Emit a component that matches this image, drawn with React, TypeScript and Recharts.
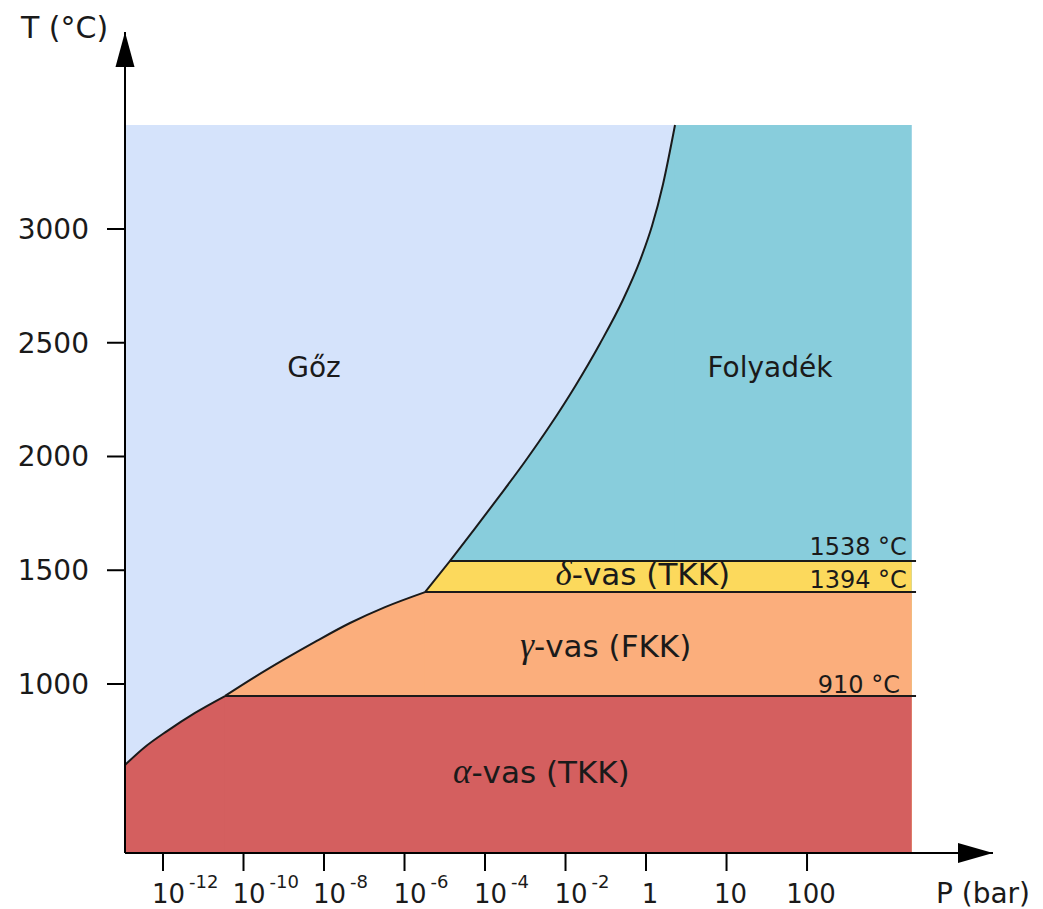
import { ComposedChart, Area, Line, XAxis, YAxis, ReferenceDot, Label } from "recharts";

// Pressure axis: one slot per printed tick (the picture spaces them evenly)
const X_TICKS = [0, 1, 2, 3, 4, 5, 6, 7, 8];
const X_TICK_LABELS = [
  ["10", "-12"],
  ["10", "-10"],
  ["10", "-8"],
  ["10", "-6"],
  ["10", "-4"],
  ["10", "-2"],
  ["1", ""],
  ["10", ""],
  ["100", ""],
];
const Y_TICKS = [1000, 1500, 2000, 2500, 3000];

// extents of the drawing (x in tick slots, t in °C)
const X_MIN = -0.472;
const X_MAX = 10.31;
const X_FILL_END = 9.3;
const X_LINE_END = 9.354;
const T_MIN = 257;
const T_MAX = 3866;
const T_TOP = 3457;
const SEAM = 0.01;

// phase boundaries as drawn
const T_ALPHA_GAMMA = 947;
const T_GAMMA_DELTA = 1404;
const T_DELTA_LIQUID = 1541;

const alphaCurve = [
  { x: -0.472, t: 644 },
  { x: -0.224, t: 723 },
  { x: 0.05, t: 793 },
  { x: 0.398, t: 873 },
  { x: 0.77, t: 947 },
];

const gammaCurve = [
  { x: 0.77, t: 947 },
  { x: 1.143, t: 1031 },
  { x: 1.516, t: 1110 },
  { x: 1.888, t: 1185 },
  { x: 2.323, t: 1268 },
  { x: 2.758, t: 1338 },
  { x: 3.255, t: 1404 },
];

const deltaEdge = [
  { x: 3.255, t: 1404 },
  { x: 3.565, t: 1541 },
];

const boilingCurve = [
  { x: 3.565, t: 1541 },
  { x: 3.876, t: 1684 },
  { x: 4.186, t: 1829 },
  { x: 4.497, t: 1978 },
  { x: 4.807, t: 2136 },
  { x: 5.118, t: 2308 },
  { x: 5.429, t: 2497 },
  { x: 5.714, t: 2689 },
  { x: 5.925, t: 2861 },
  { x: 6.075, t: 3014 },
  { x: 6.211, t: 3197 },
  { x: 6.36, t: 3457 },
];

const alphaEnd = alphaCurve[alphaCurve.length - 1];
const gammaEnd = gammaCurve[gammaCurve.length - 1];
const boilingEnd = boilingCurve[boilingCurve.length - 1];

const vaporFill = [
  { x: X_MIN, t: T_TOP },
  { x: X_FILL_END, t: T_TOP },
];
const liquidRect = [
  { x: boilingEnd.x - SEAM, t: T_TOP },
  { x: X_FILL_END, t: T_TOP },
];
const deltaFill = [...deltaEdge, { x: X_FILL_END, t: T_DELTA_LIQUID }];
const gammaRect = [
  { x: gammaEnd.x - SEAM, t: T_GAMMA_DELTA },
  { x: X_FILL_END, t: T_GAMMA_DELTA },
];
const alphaRect = [
  { x: alphaEnd.x - SEAM, t: T_ALPHA_GAMMA },
  { x: X_FILL_END, t: T_ALPHA_GAMMA },
];

const line910 = [
  { x: alphaEnd.x, t: T_ALPHA_GAMMA },
  { x: X_LINE_END, t: T_ALPHA_GAMMA },
];
const line1394 = [
  { x: gammaEnd.x, t: T_GAMMA_DELTA },
  { x: X_LINE_END, t: T_GAMMA_DELTA },
];
const deltaLine = [...deltaEdge, { x: X_LINE_END, t: T_DELTA_LIQUID }];

const COLORS = {
  vapor: "#d5e3fb",
  liquid: "#88cddc",
  delta: "#fcd95c",
  gamma: "#fbae7c",
  alpha: "#d45f5f",
  ink: "#1a1a1a",
};

const REGION_LABELS = [
  { x: 1.876, t: 2349, greek: "", text: "Gőz", size: 28 },
  { x: 7.54, t: 2349, greek: "", text: "Folyadék", size: 28 },
  { x: 5.96, t: 1435, greek: "δ", text: "-vas (TKK)", size: 31 },
  { x: 5.5, t: 1119, greek: "γ", text: "-vas (FKK)", size: 31 },
  { x: 4.7, t: 565, greek: "α", text: "-vas (TKK)", size: 31 },
];

const TEMP_LABELS = [
  { x: 9.24, t: 1567, text: "1538 °C" },
  { x: 9.24, t: 1422, text: "1394 °C" },
  { x: 9.155, t: 960, text: "910 °C" },
];

const PressureTick = ({ x, y, payload }: any) => {
  const [base, exp] = X_TICK_LABELS[X_TICKS.indexOf(payload.value)] || ["", ""];
  if (exp) {
    return (
      <text x={x - 11} y={y + 32} textAnchor="start" fontSize={26} fill={COLORS.ink}>
        {base}
        <tspan dx={4} dy={-15} fontSize={18}>
          {exp}
        </tspan>
      </text>
    );
  }
  return (
    <text x={x + 4} y={y + 32} textAnchor="middle" fontSize={26} fill={COLORS.ink}>
      {base}
    </text>
  );
};

const regionShape = (greek: string, text: string, size: number) => (props: any) => (
  <text x={props.cx} y={props.cy} textAnchor="middle" fontSize={size} fill={COLORS.ink}>
    {greek && (
      <tspan fontFamily="Liberation Serif" fontStyle="italic" fontSize={size + 4}>
        {greek}
      </tspan>
    )}
    <tspan>{text}</tspan>
  </text>
);

const tempShape = (text: string) => (props: any) => (
  <text x={props.cx} y={props.cy} textAnchor="end" fontSize={24} fill={COLORS.ink}>
    {text}
  </text>
);

const arrowRight = (props: any) => (
  <polygon
    points={`${props.cx},${props.cy} ${props.cx - 35},${props.cy - 10} ${props.cx - 35},${props.cy + 10}`}
    fill="#000"
  />
);

const arrowUp = (props: any) => (
  <polygon
    points={`${props.cx},${props.cy} ${props.cx - 9.5},${props.cy + 35} ${props.cx + 9.5},${props.cy + 35}`}
    fill="#000"
  />
);

const fillArea = (key: string, data: any[], color: string, type: any = "linear") => (
  <Area
    key={key}
    data={data}
    dataKey="t"
    type={type}
    baseValue={T_MIN}
    fill={color}
    fillOpacity={1}
    stroke="none"
    dot={false}
    activeDot={false}
    isAnimationActive={false}
  />
);

const edgeLine = (key: string, data: any[], type: any = "linear") => (
  <Line
    key={key}
    data={data}
    dataKey="t"
    type={type}
    stroke={COLORS.ink}
    strokeWidth={2}
    dot={false}
    activeDot={false}
    isAnimationActive={false}
  />
);

export default function App() {
  return (
    <div style={{ position: "absolute", left: 0, top: 0, fontFamily: "'DejaVu Sans', Verdana, sans-serif" }}>
      <ComposedChart width={1043} height={909} margin={{ top: 32, right: 50, bottom: 0, left: 0 }}>
        <XAxis
          type="number"
          dataKey="x"
          domain={[X_MIN, X_MAX]}
          ticks={X_TICKS}
          interval={0}
          allowDataOverflow
          height={56}
          tickSize={18}
          tickMargin={0}
          axisLine={{ stroke: "#000", strokeWidth: 2 }}
          tickLine={{ stroke: "#000", strokeWidth: 2 }}
          tick={<PressureTick />}
        >
          <Label
            content={(p: any) => (
              <text
                x={p.viewBox.x + p.viewBox.width + 37}
                y={p.viewBox.y + 50}
                textAnchor="end"
                fontSize={28}
                fill={COLORS.ink}
              >
                P (bar)
              </text>
            )}
          />
        </XAxis>
        <YAxis
          type="number"
          dataKey="t"
          domain={[T_MIN, T_MAX]}
          ticks={Y_TICKS}
          interval={0}
          allowDataOverflow
          width={125}
          tickSize={18}
          tickMargin={18}
          axisLine={{ stroke: "#000", strokeWidth: 2 }}
          tickLine={{ stroke: "#000", strokeWidth: 2 }}
          tick={{ fontSize: 28, fill: COLORS.ink }}
        >
          <Label
            content={(p: any) => (
              <text x={p.viewBox.x + 21} y={p.viewBox.y + 6} textAnchor="start" fontSize={30} fill={COLORS.ink}>
                T (°C)
              </text>
            )}
          />
        </YAxis>

        {fillArea("vapor", vaporFill, COLORS.vapor)}
        {fillArea("liquid", boilingCurve, COLORS.liquid, "monotone")}
        {fillArea("liquidRect", liquidRect, COLORS.liquid)}
        {fillArea("delta", deltaFill, COLORS.delta)}
        {fillArea("gamma", gammaCurve, COLORS.gamma, "monotone")}
        {fillArea("gammaRect", gammaRect, COLORS.gamma)}
        {fillArea("alpha", alphaCurve, COLORS.alpha, "monotone")}
        {fillArea("alphaRect", alphaRect, COLORS.alpha)}

        {edgeLine("alphaEdge", alphaCurve, "monotone")}
        {edgeLine("gammaEdge", gammaCurve, "monotone")}
        {edgeLine("boilingEdge", boilingCurve, "monotone")}
        {edgeLine("deltaEdge", deltaLine)}
        {edgeLine("line1394", line1394)}
        {edgeLine("line910", line910)}

        {REGION_LABELS.map((l) => (
          <ReferenceDot
            key={l.text + l.t}
            x={l.x}
            y={l.t}
            ifOverflow="visible"
            shape={regionShape(l.greek, l.text, l.size)}
          />
        ))}
        {TEMP_LABELS.map((l) => (
          <ReferenceDot key={l.text} x={l.x} y={l.t} ifOverflow="visible" shape={tempShape(l.text)} />
        ))}
        <ReferenceDot x={X_MAX} y={T_MIN} ifOverflow="visible" shape={arrowRight} />
        <ReferenceDot x={X_MIN} y={T_MAX} ifOverflow="visible" shape={arrowUp} />
      </ComposedChart>
    </div>
  );
}
